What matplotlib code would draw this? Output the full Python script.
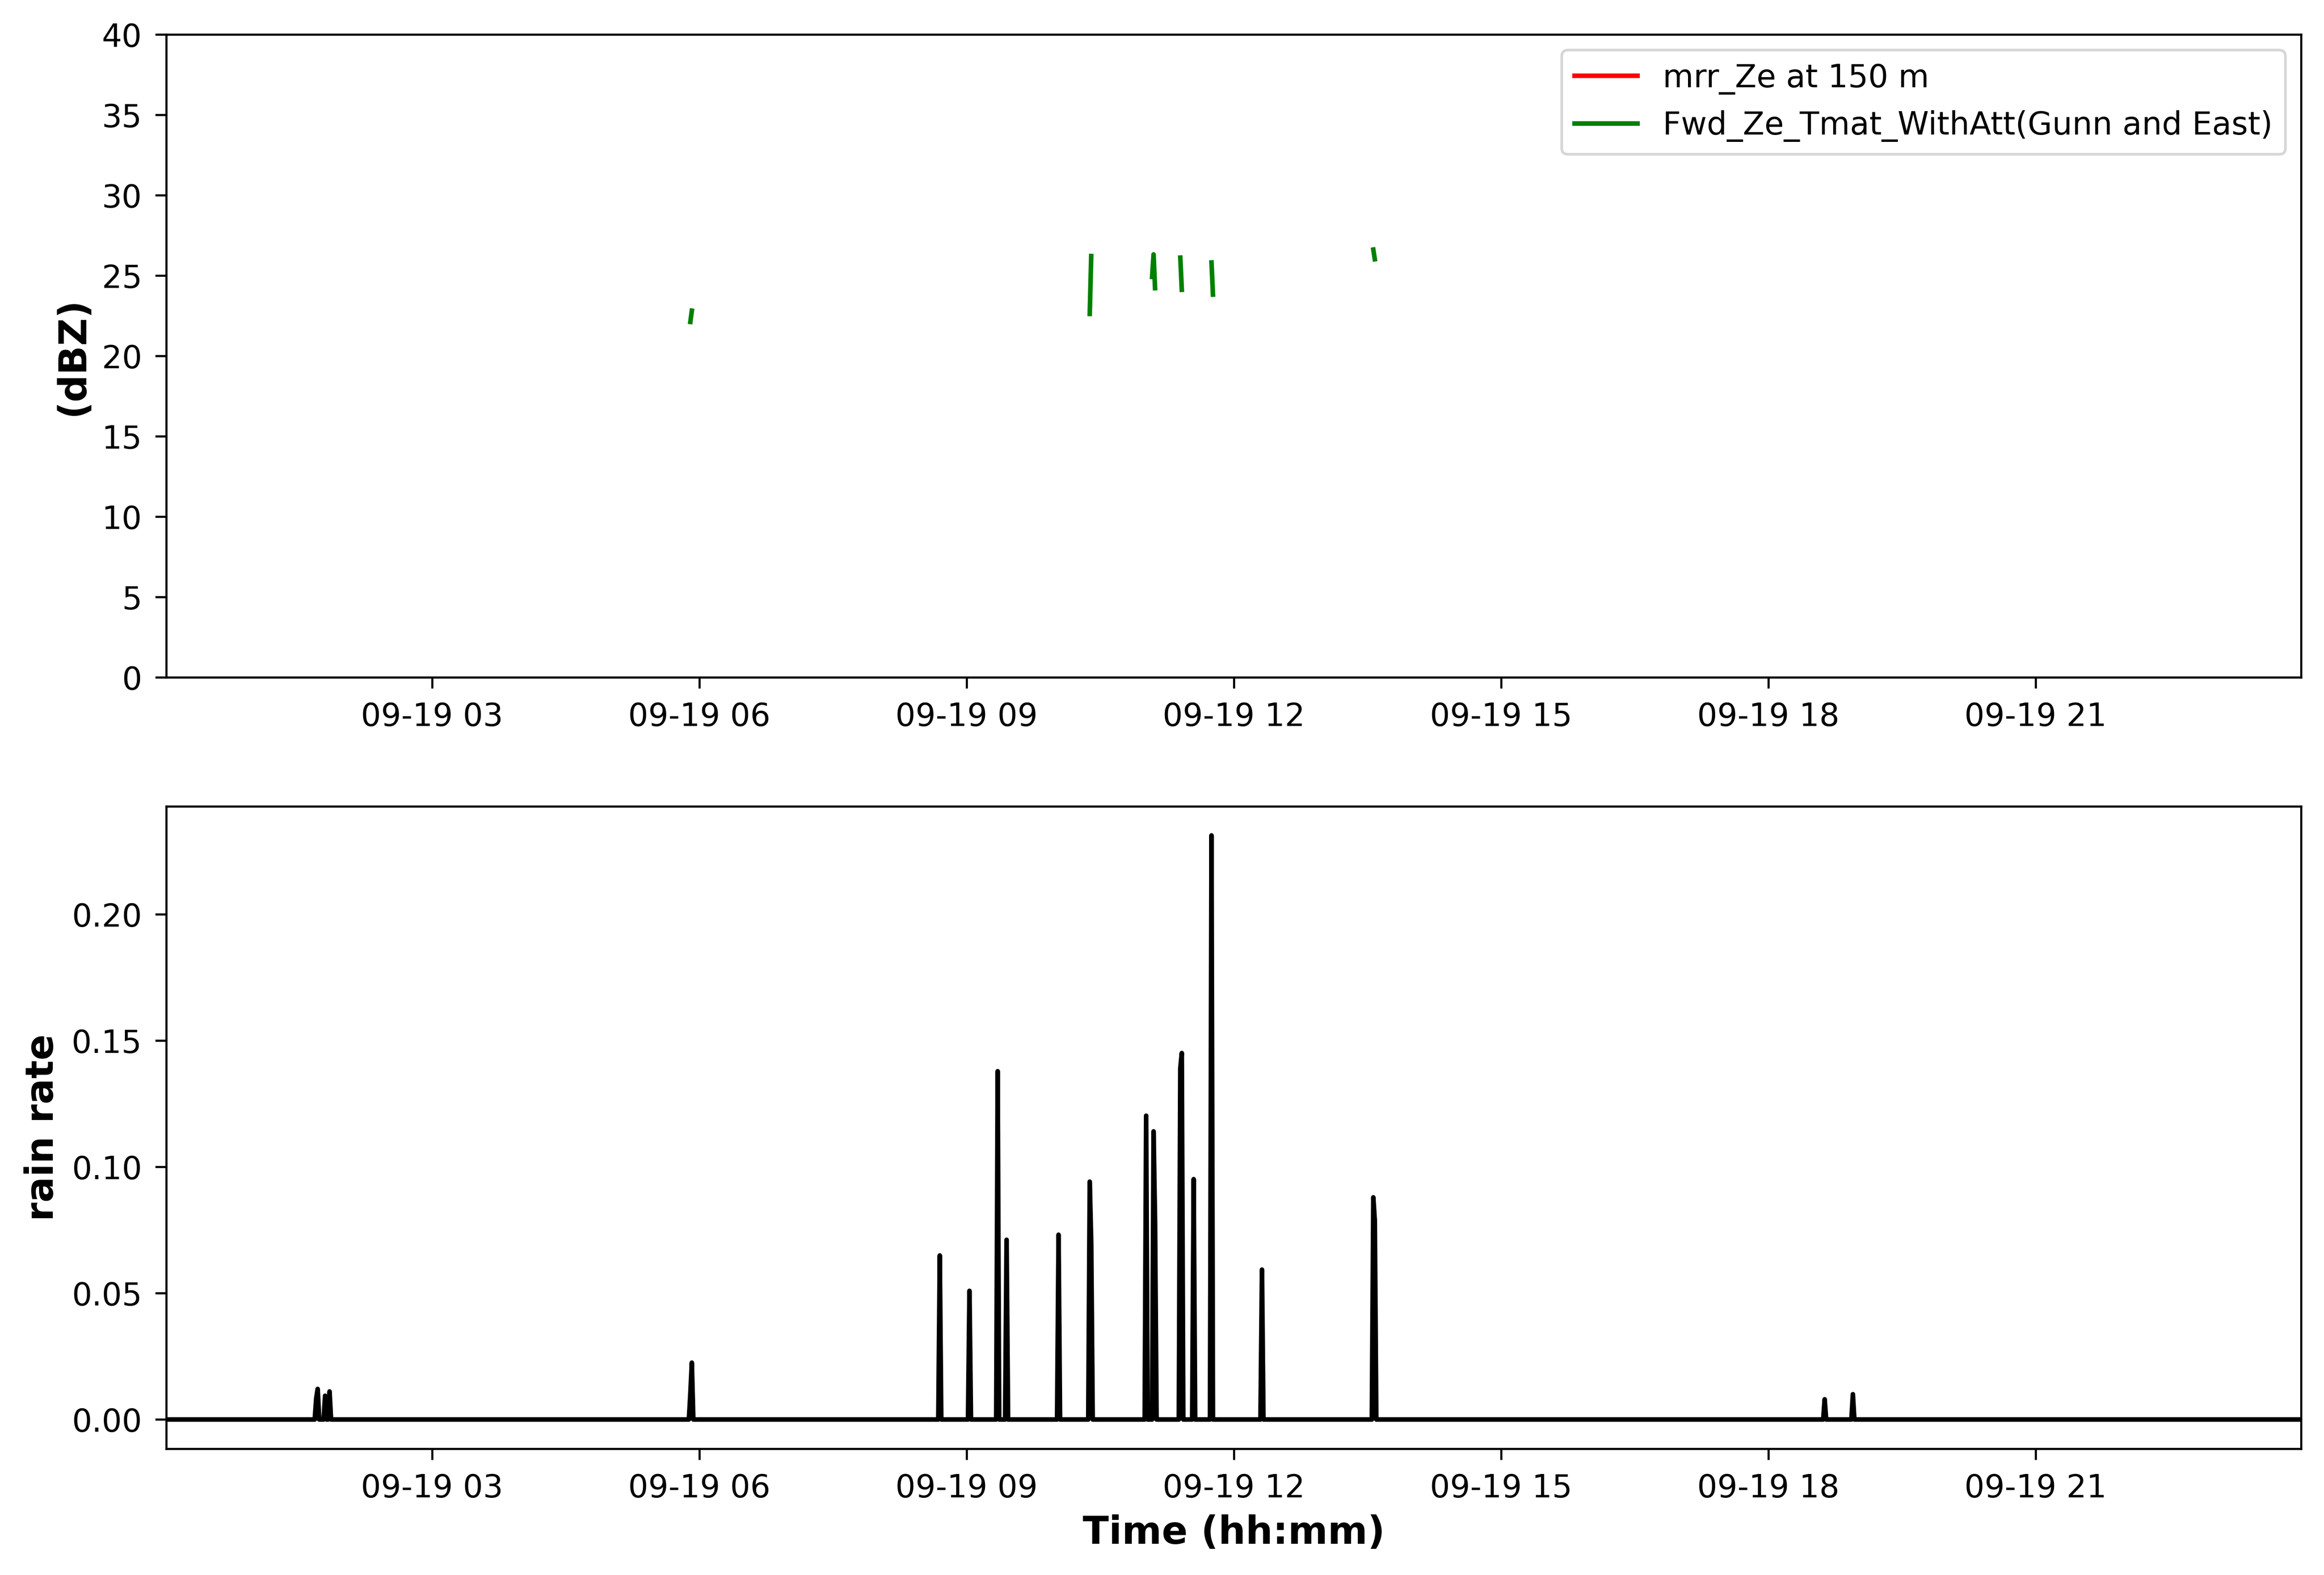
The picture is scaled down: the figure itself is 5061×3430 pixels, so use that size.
import numpy as np
import pandas as pd
import matplotlib
matplotlib.use('Agg')
import matplotlib.pyplot as plt
import matplotlib.dates as mdates

# time axis: one value per minute of 2017-09-19 (00:01 .. 23:59)
day0 = pd.Timestamp('2017-09-19 00:00')
minutes = np.arange(1, 1440)

# rain rate: minutes with rain, every other minute is 0
rain_minutes = [102, 103, 108, 111, 354, 355, 522, 542, 561, 567, 602, 623, 624,
                661, 666, 667, 684, 685, 693, 705, 739, 814, 815, 1118, 1137]
rain_values = [0.0083, 0.0121, 0.0094, 0.0111, 0.0102, 0.0225, 0.0649, 0.0509,
               0.1378, 0.0711, 0.0731, 0.0941, 0.0700, 0.1202, 0.1140, 0.0780,
               0.1390, 0.1450, 0.0951, 0.2311, 0.0593, 0.0879, 0.0787, 0.0080, 0.0100]

# forward modelled Ze (dBZ), missing elsewhere
ze_minutes = [354, 355, 623, 624, 665, 666, 667, 684, 685, 705, 706, 814, 815]
ze_values = [22.1, 22.8, 22.6, 26.2, 24.9, 26.3, 24.2, 26.1, 24.1, 25.8, 23.8, 26.6, 26.0]

# MRR Ze at 150 m: no valid values in this window
mrr_minutes = []
mrr_values = []

times = day0 + pd.to_timedelta(minutes, unit='min')

rain = np.zeros(len(minutes))
rain[np.searchsorted(minutes, rain_minutes)] = rain_values

ze = np.full(len(minutes), np.nan)
ze[np.searchsorted(minutes, ze_minutes)] = ze_values

mrr = np.full(len(minutes), np.nan)
if mrr_minutes:
    mrr[np.searchsorted(minutes, mrr_minutes)] = mrr_values

W, H, DPI = 5061, 3430, 413
fig = plt.figure(figsize=((W + 0.5) / DPI, (H + 0.5) / DPI), dpi=DPI)
left = 362 / W
width = (5011 - 362) / W
ax1 = fig.add_axes([left, 1 - 1475 / H, width, (1475 - 75) / H])
ax2 = fig.add_axes([left, 1 - 3155 / H, width, (3155 - 1756) / H])

ax1.plot(times, mrr, color='red', lw=1.75, label='mrr_Ze at 150 m')
ax1.plot(times, ze, color='green', lw=1.75, label='Fwd_Ze_Tmat_WithAtt(Gunn and East)')
ax1.set_ylim(0, 40)
ax1.set_ylabel('(dBZ)', fontsize=14.5, fontweight='bold')
ax1.legend(loc='upper right', fontsize=12)

ax2.plot(times, rain, color='black', lw=1.75)
ax2.set_ylabel('rain rate', fontsize=14.5, fontweight='bold')
ax2.set_xlabel('Time (hh:mm)', fontsize=14.5, fontweight='bold')

for ax in (ax1, ax2):
    ax.set_xlim(times[0], times[-1])
    ax.xaxis.set_major_locator(mdates.HourLocator(byhour=range(0, 24, 3)))
    ax.xaxis.set_major_formatter(mdates.DateFormatter('%m-%d %H'))
    ax.tick_params(labelsize=12, length=4.2, pad=5)

fig.savefig('out.png', dpi=DPI)
